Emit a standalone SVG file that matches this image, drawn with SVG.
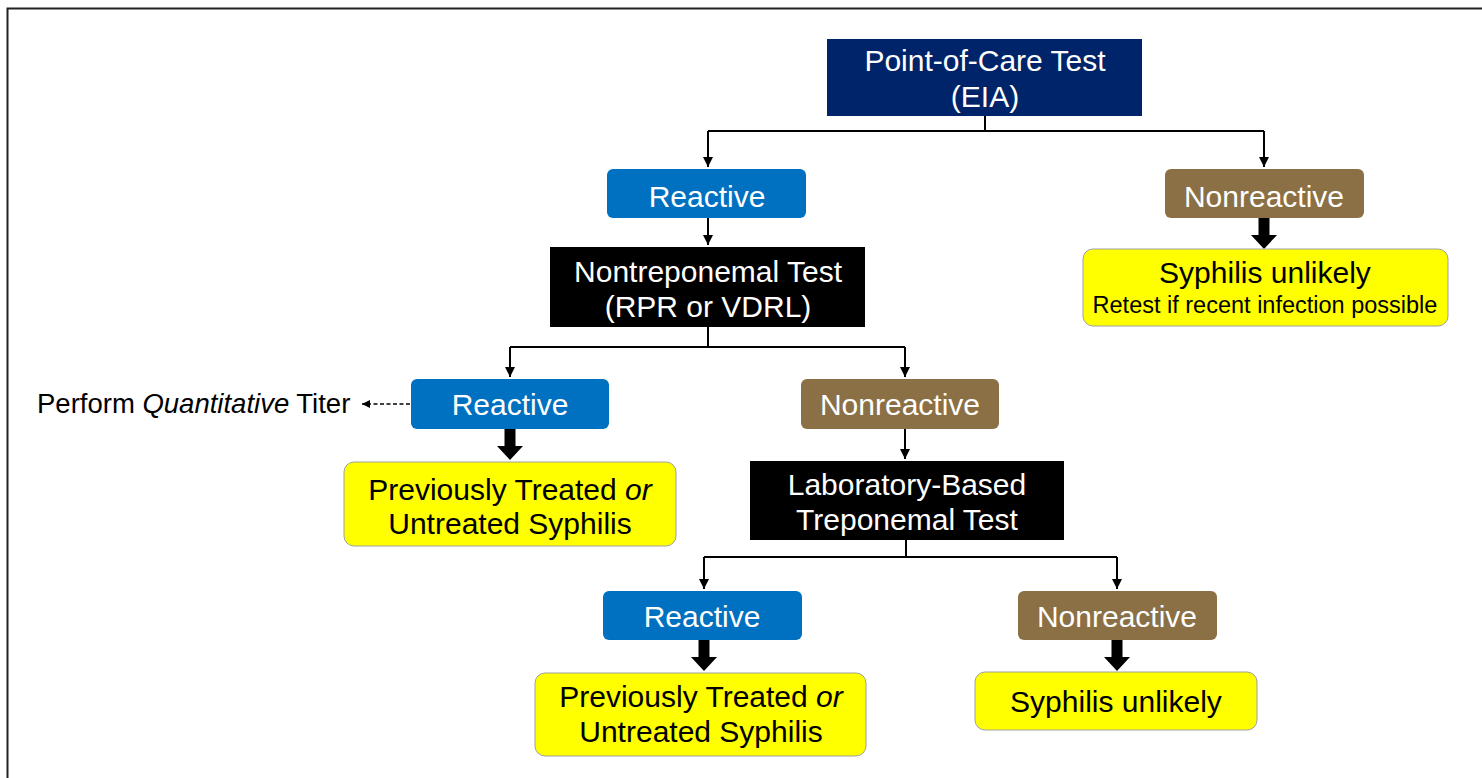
<svg xmlns="http://www.w3.org/2000/svg" width="1482" height="778" viewBox="0 0 1482 778">
<defs>
<style>
.t{font-family:"Liberation Sans",Arial,sans-serif;text-anchor:middle;}
.w{fill:#ffffff;font-size:30px;}
.k{fill:#000000;font-size:30px;}
.blue{fill:#0070C0;}
.brown{fill:#8B7045;}
.navy{fill:#002469;}
.blk{fill:#000000;}
.yel{fill:#FFFF00;stroke:#A0A0A0;stroke-width:1;}
.ln{fill:none;stroke:#000;stroke-width:2;}
.dash{fill:none;stroke:#000;stroke-width:1.6;stroke-dasharray:4 2.5;}
.thick{fill:#000;}
</style>
<marker id="ah" viewBox="0 0 10 10" refX="10" refY="5" markerWidth="5" markerHeight="5" orient="auto" markerUnits="strokeWidth">
<path d="M0,0 L10,5 L0,10 z" fill="#000"/>
</marker>
<path id="big" d="M-5.5,0 L5.5,0 L5.5,17 L13,17 L0,31 L-13,17 L-5.5,17 z"/>
</defs>
<rect x="0" y="0" width="1482" height="778" fill="#ffffff"/>
<path d="M7.5,778 L7.5,8.5 L1482,8.5" fill="none" stroke="#222" stroke-width="2"/>

<g id="connectors">
<path class="ln" d="M985,116 L985,131 M708,131 L1264,131"/>
<path class="ln" d="M708,131 L708,167" marker-end="url(#ah)"/>
<path class="ln" d="M1264,131 L1264,167" marker-end="url(#ah)"/>
<path class="ln" d="M708,218 L708,245" marker-end="url(#ah)"/>
<path class="ln" d="M708,327 L708,347 M510,347 L905,347"/>
<path class="ln" d="M510,347 L510,377" marker-end="url(#ah)"/>
<path class="ln" d="M905,347 L905,377" marker-end="url(#ah)"/>
<path class="dash" d="M410,404 L362,404" marker-end="url(#ah)"/>
<path class="ln" d="M905,429 L905,459" marker-end="url(#ah)"/>
<path class="ln" d="M906,540 L906,557 M704,557 L1117,557"/>
<path class="ln" d="M704,557 L704,589" marker-end="url(#ah)"/>
<path class="ln" d="M1117,557 L1117,589" marker-end="url(#ah)"/>
<use href="#big" class="thick" x="1264" y="218"/>
<use href="#big" class="thick" x="510" y="429"/>
<use href="#big" class="thick" x="704" y="640"/>
<use href="#big" class="thick" x="1117" y="640"/>
</g>

<g id="poc">
<rect class="navy" x="827" y="39" width="315" height="77"/>
<text class="t w" x="985" y="71">Point-of-Care Test</text>
<text class="t w" x="985" y="107">(EIA)</text>
</g>

<g id="reactive1">
<rect class="blue" x="607" y="169" width="199" height="49" rx="6"/>
<text class="t w" x="707" y="207">Reactive</text>
</g>

<g id="nonreactive1">
<rect class="brown" x="1165" y="169" width="199" height="49" rx="6"/>
<text class="t w" x="1264" y="207">Nonreactive</text>
</g>

<g id="unlikely1">
<rect class="yel" x="1083" y="249" width="365" height="77" rx="10"/>
<text class="t k" x="1265" y="283">Syphilis unlikely</text>
<text class="t k" x="1265" y="313" style="font-size:23.5px">Retest if recent infection possible</text>
</g>

<g id="nontrep">
<rect class="blk" x="550" y="247" width="315" height="80"/>
<text class="t w" x="708" y="282">Nontreponemal Test</text>
<text class="t w" x="708" y="317">(RPR or VDRL)</text>
</g>

<g id="reactive2">
<rect class="blue" x="411" y="379" width="198" height="50" rx="6"/>
<text class="t w" x="510" y="415">Reactive</text>
</g>

<g id="titer">
<text x="37" y="413" style="font-family:'Liberation Sans',Arial,sans-serif;font-size:27.5px;fill:#000">Perform <tspan font-style="italic">Quantitative</tspan> Titer</text>
</g>

<g id="nonreactive2">
<rect class="brown" x="801" y="379" width="198" height="50" rx="6"/>
<text class="t w" x="900" y="415">Nonreactive</text>
</g>

<g id="treated1">
<rect class="yel" x="344" y="462" width="332" height="84" rx="10"/>
<text class="t k" x="510" y="500">Previously Treated <tspan font-style="italic">or</tspan></text>
<text class="t k" x="510" y="534">Untreated Syphilis</text>
</g>

<g id="labtrep">
<rect class="blk" x="750" y="461" width="314" height="79"/>
<text class="t w" x="907" y="495">Laboratory-Based</text>
<text class="t w" x="907" y="530">Treponemal Test</text>
</g>

<g id="reactive3">
<rect class="blue" x="603" y="591" width="199" height="49" rx="6"/>
<text class="t w" x="702" y="627">Reactive</text>
</g>

<g id="nonreactive3">
<rect class="brown" x="1018" y="591" width="199" height="49" rx="6"/>
<text class="t w" x="1117" y="627">Nonreactive</text>
</g>

<g id="treated2">
<rect class="yel" x="535" y="673" width="331" height="83" rx="10"/>
<text class="t k" x="701" y="707">Previously Treated <tspan font-style="italic">or</tspan></text>
<text class="t k" x="701" y="742">Untreated Syphilis</text>
</g>

<g id="unlikely2">
<rect class="yel" x="975" y="672" width="282" height="58" rx="10"/>
<text class="t k" x="1116" y="712">Syphilis unlikely</text>
</g>
</svg>
